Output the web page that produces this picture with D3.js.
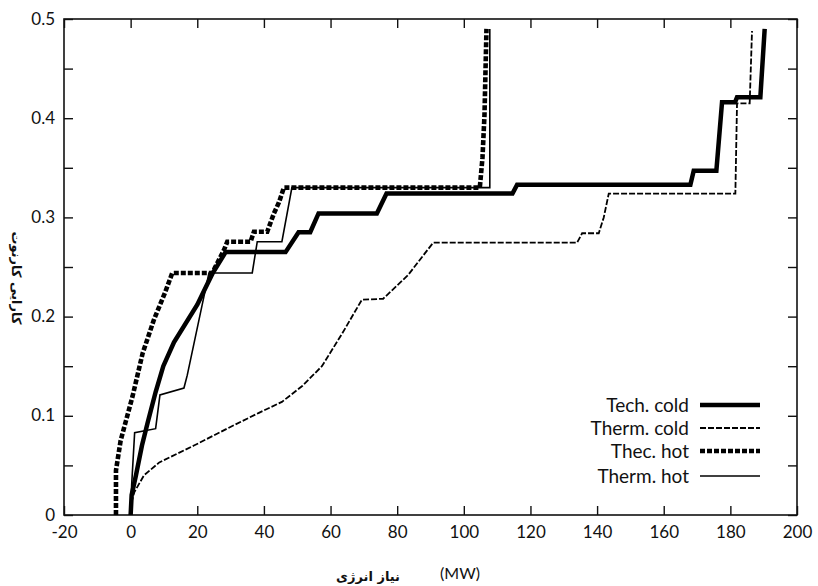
<!DOCTYPE html>
<html>
<head>
<meta charset="utf-8">
<script src="https://cdn.jsdelivr.net/npm/d3@7"></script>
<style>
  html, body { margin: 0; padding: 0; background: #fff; }
  #chart { width: 818px; height: 586px; }
  text { font-family: Lato, 'DejaVu Sans', sans-serif; fill: #111; }
</style>
</head>
<body>
<div id="chart"></div>
<script>
// energy demand (MW) vs Carnot efficiency
const techCold = [[0, 0], [0.3, 0.02], [1.6, 0.04], [3.4, 0.07], [5.1, 0.093], [7.5, 0.124], [9.8, 0.15],
  [13, 0.174], [20, 0.212], [24.5, 0.243], [28.5, 0.265], [46.5, 0.265], [50.4, 0.285], [53.9, 0.285],
  [56.4, 0.304], [73.9, 0.304], [76.8, 0.324], [114.6, 0.324], [116, 0.333], [168, 0.333], [169, 0.347],
  [175.8, 0.347], [177.5, 0.416], [181.4, 0.416], [182, 0.421], [189, 0.421], [190.3, 0.49]]

const thermCold = [[0.2, 0.012], [1.1, 0.023], [4, 0.04], [8.6, 0.053], [19, 0.07], [29.5, 0.088],
  [38.5, 0.103], [45.4, 0.114], [51.5, 0.13], [57.4, 0.15], [63.5, 0.183], [69.4, 0.217], [75.8, 0.218],
  [83.3, 0.242], [90.8, 0.2745], [134, 0.2745], [135.5, 0.284], [140.5, 0.284], [142, 0.3], [143.5, 0.324],
  [181.5, 0.324], [182, 0.415], [185.8, 0.415], [186.5, 0.488]]

const thecHot = [[-4.4, 0], [-4.4, 0.045], [-3, 0.075], [-1.4, 0.095], [0.6, 0.12], [3.6, 0.163],
  [7, 0.197], [10.3, 0.224], [12.5, 0.244], [24.5, 0.244], [28, 0.267], [29, 0.2755], [36, 0.2755],
  [37, 0.2856], [41, 0.2856], [43, 0.304], [44.5, 0.315], [46, 0.33], [104.8, 0.33], [105.6, 0.36],
  [106.2, 0.403], [106.8, 0.49]]

const thermHot = [[0, 0], [0.3, 0.03], [1.2, 0.083], [7.5, 0.087], [8.8, 0.121], [16, 0.128],
  [17, 0.141], [23.5, 0.244], [36.5, 0.244], [38, 0.2755], [45.4, 0.2755], [48.4, 0.33], [107.8, 0.33],
  [107.8, 0.49]]

const seriesNames = ['Tech. cold', 'Therm. cold', 'Thec. hot', 'Therm. hot']
const seriesData = [techCold, thermCold, thecHot, thermHot]
const xTicks = [-20, 0, 20, 40, 60, 80, 100, 120, 140, 160, 180, 200]
const yTicks = [0, 0.1, 0.2, 0.3, 0.4, 0.5]
const yMinorTicks = [0, 0.05, 0.1, 0.15, 0.2, 0.25, 0.3, 0.35, 0.4, 0.45, 0.5]
const xTitle = 'نیاز انرژی'
const xUnit = '(MW)'
const yTitle = 'کارایی کارنوت'

class CarnotChart {
  constructor (divId) {
    this.divId = divId
    this.styles = [
      { width: 4.5, dash: null },
      { width: 1.8, dash: '6,2' },
      { width: 4.6, dash: '5,2' },
      { width: 1.6, dash: null }
    ]
    this.initChart()
  }

  initChart () {
    this.chart = {}
    this.chart.padding = { left: 64, right: 21, top: 19, bottom: 71 }
    const el = document.getElementById(this.divId)
    this.chart.w = el.offsetWidth
    this.chart.h = el.offsetHeight
    this.chart.svg = d3.select('#' + this.divId)
      .append('svg')
      .attr('width', this.chart.w)
      .attr('height', this.chart.h)
  }

  render () {
    const p = this.chart.padding
    const svg = this.chart.svg
    const x = d3.scaleLinear().domain([-20, 200]).range([p.left, this.chart.w - p.right])
    const y = d3.scaleLinear().domain([0, 0.5]).range([this.chart.h - p.bottom, p.top])
    const tickLen = 9

    // axes, ticks pointing inside the frame
    const bottom = svg.append('g')
      .attr('transform', `translate(0,${y(0)})`)
      .call(d3.axisBottom(x).tickValues(xTicks).tickSize(-tickLen).tickPadding(11).tickFormat(d => String(d)))
    const top = svg.append('g')
      .attr('transform', `translate(0,${y(0.5)})`)
      .call(d3.axisTop(x).tickValues(xTicks).tickSize(-tickLen).tickFormat(''))
    const left = svg.append('g')
      .attr('transform', `translate(${x(-20)},0)`)
      .call(d3.axisLeft(y).tickValues(yMinorTicks).tickSize(-tickLen).tickPadding(9)
        .tickFormat(d => yTicks.some(t => Math.abs(t - d) < 1e-9) ? String(d) : ''))
    const right = svg.append('g')
      .attr('transform', `translate(${x(200)},0)`)
      .call(d3.axisRight(y).tickValues(yMinorTicks).tickSize(-tickLen).tickFormat(''))

    for (const g of [bottom, top, left, right]) {
      g.select('.domain').remove()
      g.selectAll('line').attr('stroke', '#111').attr('stroke-width', 1.4)
      g.selectAll('text').attr('font-size', 17).attr('fill', '#111')
        .style('font-family', 'Lato, sans-serif')
    }
    left.selectAll('text').attr('dy', '0.3em')

    svg.append('rect')
      .attr('x', x(-20))
      .attr('y', y(0.5))
      .attr('width', x(200) - x(-20))
      .attr('height', y(0) - y(0.5))
      .attr('fill', 'none')
      .attr('stroke', '#111')
      .attr('stroke-width', 1.6)

    const line = d3.line()
      .x(d => x(d[0]))
      .y(d => y(d[1]))

    svg.append('g')
      .attr('class', 'series')
      .selectAll('path')
      .data(seriesData)
      .enter()
      .append('path')
      .attr('d', d => line(d))
      .attr('fill', 'none')
      .attr('stroke', '#000')
      .attr('stroke-width', (_, i) => this.styles[i].width)
      .attr('stroke-dasharray', (_, i) => this.styles[i].dash)

    this.renderLegend()
    this.renderTitles()
  }

  renderLegend () {
    const rows = [405, 428, 451, 476]
    const lg = this.chart.svg.append('g').attr('class', 'legend')
    const item = lg.selectAll('g')
      .data(seriesNames)
      .enter()
      .append('g')
      .attr('transform', (_, i) => `translate(0,${rows[i]})`)

    item.append('text')
      .attr('x', 689)
      .attr('dy', '0.35em')
      .attr('text-anchor', 'end')
      .attr('font-size', 19)
      .text(d => d)

    item.append('line')
      .attr('x1', 700)
      .attr('x2', 760)
      .attr('stroke', '#000')
      .attr('stroke-width', (_, i) => this.styles[i].width)
      .attr('stroke-dasharray', (_, i) => this.styles[i].dash)
  }

  renderTitles () {
    const svg = this.chart.svg
    svg.append('text')
      .attr('x', 368)
      .attr('y', 581)
      .attr('text-anchor', 'middle')
      .attr('font-size', 13)
      .attr('font-weight', 'bold')
      .style('font-family', "'DejaVu Sans', sans-serif")
      .text(xTitle)

    svg.append('text')
      .attr('x', 460)
      .attr('y', 579)
      .attr('text-anchor', 'middle')
      .attr('font-size', 16)
      .text(xUnit)

    svg.append('text')
      .attr('transform', 'translate(17,278) rotate(90)')
      .attr('text-anchor', 'middle')
      .attr('dy', '0.35em')
      .attr('font-size', 13)
      .attr('font-weight', 'bold')
      .style('font-family', "'DejaVu Sans', sans-serif")
      .text(yTitle)
  }
}

const chart = new CarnotChart('chart')
chart.render()
</script>
</body>
</html>
